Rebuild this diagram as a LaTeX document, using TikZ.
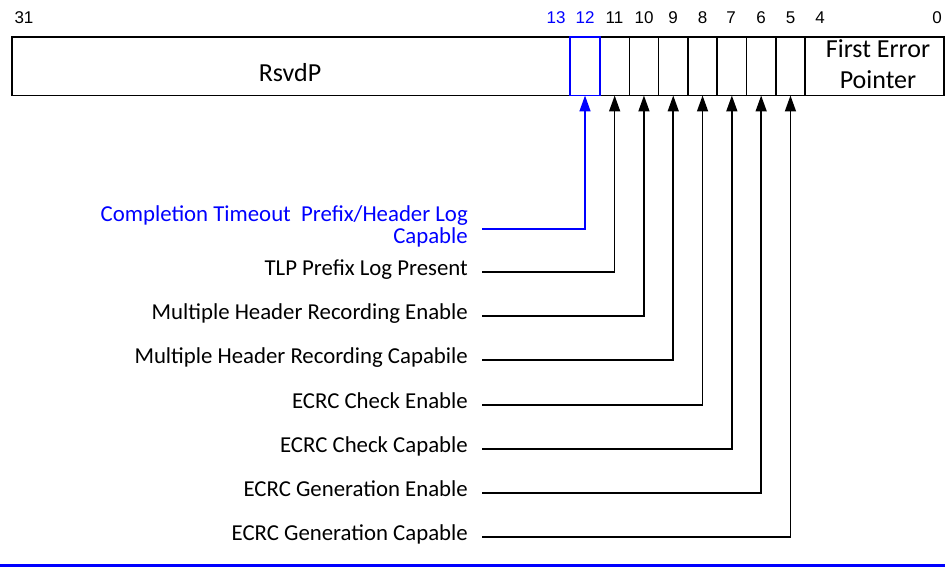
\documentclass[tikz,border=0pt]{standalone}
\usepackage{fontspec}
\setmainfont{Carlito}
\newfontfamily\bitfont{Liberation Sans}
\usetikzlibrary{arrows.meta}
\begin{document}
\begin{tikzpicture}[x=1pt,y=-1pt,
  cell/.style={draw, line width=1.6pt, inner sep=0pt, outer sep=0pt, anchor=north west, minimum height=58.5pt},
  boxtext/.style={font=\fontsize{26}{26}\selectfont, anchor=base, inner sep=0pt},
  bitnum/.style={font=\bitfont\fontsize{17}{17}\selectfont, anchor=base, inner sep=0pt},
  lbl/.style={font=\fontsize{22.8}{22}\selectfont, anchor=base east, inner sep=0pt, align=right},
  conn/.style={line width=1.6pt, -{Triangle[length=16pt,width=11pt]}},
]
\useasboundingbox (0,0) rectangle (945,567);

% register cells
\node[cell, minimum width=558pt] (rsvd) at (12,37) {};
\foreach \b [count=\i from 0] in {11,10,9,8,7,6,5} {
  \node[cell, minimum width=29.3pt] (c\b) at ({600+29.3*\i},37) {};
}
\node[cell, minimum width=139pt] (fep) at (805.1,37) {};
\node[cell, draw=blue, minimum width=30pt] (c12) at (570,37) {};

% field texts
\node[boxtext] (trsvd) at (290,82) {RsvdP};
\node[boxtext] (tfep1) at (878,58) {First Error};
\node[boxtext] (tfep2) at (878,89) {Pointer};

% bit numbers
\node[bitnum] (n31) at (24,24) {31};
\node[bitnum, text=blue] (n13) at (556,24) {13};
\node[bitnum, text=blue] (n12) at (585,24) {12};
\node[bitnum] (n11) at (614.5,24) {11};
\node[bitnum] (n10) at (644,24) {10};
\node[bitnum] (n9) at (673,24) {9};
\node[bitnum] (n8) at (702.5,24) {8};
\node[bitnum] (n7) at (731,24) {7};
\node[bitnum] (n6) at (761,24) {6};
\node[bitnum] (n5) at (790.5,24) {5};
\node[bitnum] (n4) at (820,24) {4};
\node[bitnum] (n0) at (937,24) {0};

% labels
\node[lbl, anchor=east, text=blue] (l12) at (468,226) {Completion Timeout\ \ Prefix/Header Log\\Capable};
\node[lbl] (l11) at (468,275) {TLP Prefix Log Present};
\node[lbl] (l10) at (468,319) {Multiple Header Recording Enable};
\node[lbl] (l9) at (468,363) {Multiple Header Recording Capabile};
\node[lbl] (l8) at (468,408) {ECRC Check Enable};
\node[lbl] (l7) at (468,452) {ECRC Check Capable};
\node[lbl] (l6) at (468,496) {ECRC Generation Enable};
\node[lbl] (l5) at (468,540) {ECRC Generation Capable};

% connector start points
\coordinate (s12) at (482,229);
\coordinate (s11) at (482,272);
\coordinate (s10) at (482,316);
\coordinate (s9) at (482,360);
\coordinate (s8) at (482,405);
\coordinate (s7) at (482,449);
\coordinate (s6) at (482,493);
\coordinate (s5) at (482,537);

\draw[conn, blue] (s12) -| (c12.south);
\foreach \b in {11,10,9,8,7,6,5} {
  \draw[conn] (s\b) -| (c\b.south);
}

% bottom rule
\draw[blue, line width=3pt] (0,565) -- (945,565);
\end{tikzpicture}
\end{document}
